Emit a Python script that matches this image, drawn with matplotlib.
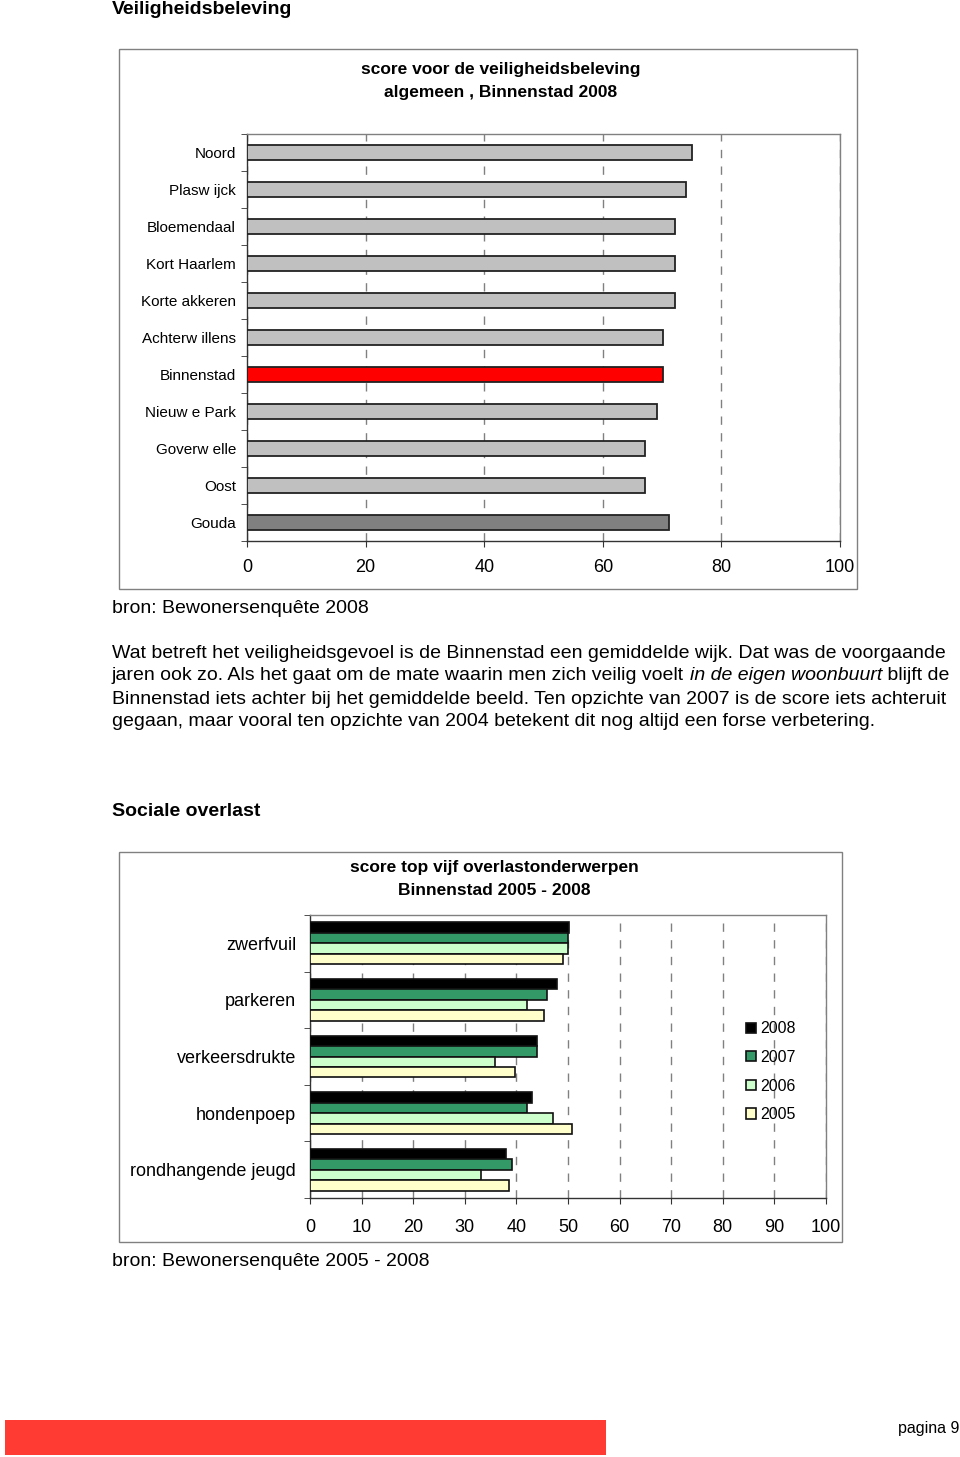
import numpy as np
import matplotlib
matplotlib.use('Agg')
import matplotlib.pyplot as plt
from matplotlib.patches import Rectangle

plt.rcParams['font.family'] = ['Liberation Sans', 'DejaVu Sans']

# --- data chart 1 ---
wijken = ['Noord', 'Plasw ijck', 'Bloemendaal', 'Kort Haarlem', 'Korte akkeren',
          'Achterw illens', 'Binnenstad', 'Nieuw e Park', 'Goverw elle', 'Oost', 'Gouda']
scores = [75.0, 74.0, 72.2, 72.2, 72.2, 70.2, 70.2, 69.1, 67.1, 67.1, 71.2]
kleuren = ['#C0C0C0'] * 6 + ['#FF0000'] + ['#C0C0C0'] * 3 + ['#808080']

# --- data chart 2 ---
onderwerpen = ['zwerfvuil', 'parkeren', 'verkeersdrukte', 'hondenpoep', 'rondhangende jeugd']
jaren = ['2008', '2007', '2006', '2005']
s2008 = [50.1, 47.9, 43.9, 43.0, 37.9]
s2007 = [50.0, 45.9, 43.9, 42.0, 39.1]
s2006 = [50.0, 42.0, 35.9, 47.0, 33.1]
s2005 = [49.1, 45.3, 39.7, 50.7, 38.5]
jaar_kleuren = ['#000000', '#339966', '#CCFFCC', '#FFFFCC']

W, H = 960, 1457
fig = plt.figure(figsize=(W / 100, H / 100), dpi=100)


def px_axes(x0, y0, x1, y1):
    return fig.add_axes([x0 / W, 1 - y1 / H, (x1 - x0) / W, (y1 - y0) / H])


def px_text(x, y, s, **kw):
    return fig.text(x / W, 1 - y / H, s, **kw)


def frame(x0, y0, x1, y1):
    fig.patches.append(Rectangle((x0 / W, 1 - y1 / H), (x1 - x0) / W, (y1 - y0) / H,
                                 transform=fig.transFigure, fill=False,
                                 edgecolor='#808080', linewidth=1.0))


def style_axes(ax):
    ax.spines['top'].set_color('#808080')
    ax.spines['right'].set_color('#808080')
    ax.spines['left'].set_color('#333333')
    ax.spines['bottom'].set_color('#333333')
    for s in ax.spines.values():
        s.set_linewidth(1.0)


# headings
px_text(112, 10, 'Veiligheidsbeleving', fontsize=14, fontweight='bold', va='center')
px_text(112, 812, 'Sociale overlast', fontsize=14, fontweight='bold', va='center')

# ---------------- chart 1 ----------------
frame(119, 49, 857, 589)
px_text(501, 81, 'score voor de veiligheidsbeleving\nalgemeen , Binnenstad 2008',
        fontsize=12.5, fontweight='bold', ha='center', va='center', linespacing=1.6)

ax1 = px_axes(247, 134, 840, 541)
y = np.arange(len(wijken))
ax1.barh(y, scores, height=0.42, color=kleuren, edgecolor='#222222', linewidth=1.3, zorder=3)
ax1.set_xlim(0, 100)
ax1.set_ylim(len(wijken) - 0.5, -0.5)
ax1.set_xticks(np.arange(0, 101, 20))
ax1.set_yticks(y)
ax1.set_yticklabels(wijken, fontsize=11)
ax1.set_yticks(np.arange(-0.5, len(wijken), 1), minor=True)
ax1.tick_params(axis='y', which='major', length=0, pad=8)
ax1.tick_params(axis='y', which='minor', length=4, direction='out', color='#333333')
ax1.tick_params(axis='x', length=4, direction='out', labelsize=13, pad=9, color='#333333')
ax1.xaxis.grid(True, color='#808080', linestyle=(0, (6, 6)), linewidth=1.0, zorder=0)
ax1.set_axisbelow(True)
style_axes(ax1)

px_text(112, 609, 'bron: Bewonersenquête 2008', fontsize=14, va='center')

# ---------------- paragraph ----------------
renderer = fig.canvas.get_renderer()


def runs(x, y, parts):
    for s, st in parts:
        t = px_text(x, y, s, fontsize=14, va='center', style=st)
        bb = t.get_window_extent(renderer)
        x = bb.x1


runs(112, 653, [('Wat betreft het veiligheidsgevoel is de Binnenstad een gemiddelde wijk. Dat was de voorgaande', 'normal')])
runs(112, 676, [('jaren ook zo. Als het gaat om de mate waarin men zich veilig voelt ', 'normal'),
                ('in de eigen woonbuurt', 'italic'),
                (' blijft de', 'normal')])
runs(112, 699, [('Binnenstad iets achter bij het gemiddelde beeld. Ten opzichte van 2007 is de score iets achteruit', 'normal')])
runs(112, 721, [('gegaan, maar vooral ten opzichte van 2004 betekent dit nog altijd een forse verbetering.', 'normal')])

# ---------------- chart 2 ----------------
frame(119, 852, 842, 1242)
px_text(494, 879, 'score top vijf overlastonderwerpen\nBinnenstad 2005 - 2008',
        fontsize=12.5, fontweight='bold', ha='center', va='center', linespacing=1.6)

ax2 = px_axes(310, 915, 826, 1198)
g = np.arange(len(onderwerpen))
h = 0.185
reeksen = [s2008, s2007, s2006, s2005]
handles = []
for k, (vals, kl, jr) in enumerate(zip(reeksen, jaar_kleuren, jaren)):
    b = ax2.barh(g + (k - 1.5) * h, vals, height=h, color=kl, edgecolor='#111111',
                 linewidth=1.2, zorder=3, label=jr)
    handles.append(b)
ax2.set_xlim(0, 100)
ax2.set_ylim(len(onderwerpen) - 0.5, -0.5)
ax2.set_xticks(np.arange(0, 101, 10))
ax2.set_yticks(g)
ax2.set_yticklabels(onderwerpen, fontsize=13)
ax2.set_yticks(np.arange(-0.5, len(onderwerpen), 1), minor=True)
ax2.tick_params(axis='y', which='major', length=0, pad=10)
ax2.tick_params(axis='y', which='minor', length=4, direction='out', color='#333333')
ax2.tick_params(axis='x', length=4, direction='out', labelsize=13, pad=11, color='#333333')
ax2.xaxis.grid(True, color='#808080', linestyle=(0, (6, 6)), linewidth=1.0, zorder=0)
ax2.set_axisbelow(True)
style_axes(ax2)

fig.legend(handles=handles, labels=jaren, loc='upper left',
           bbox_to_anchor=(732 / W, 1 - 1007 / H), frameon=False, fontsize=11.5,
           handlelength=0.6, handleheight=0.6, handletextpad=0.25, labelspacing=0.85)

px_text(112, 1262, 'bron: Bewonersenquête 2005 - 2008', fontsize=14, va='center')

# footer
fig.patches.append(Rectangle((5 / W, 1 - 1455 / H), 601 / W, 35 / H,
                             transform=fig.transFigure, color='#FF3B33', linewidth=0))
px_text(959, 1428, 'pagina 9', fontsize=11.5, ha='right', va='center')

fig.savefig('out.png', dpi=100)
